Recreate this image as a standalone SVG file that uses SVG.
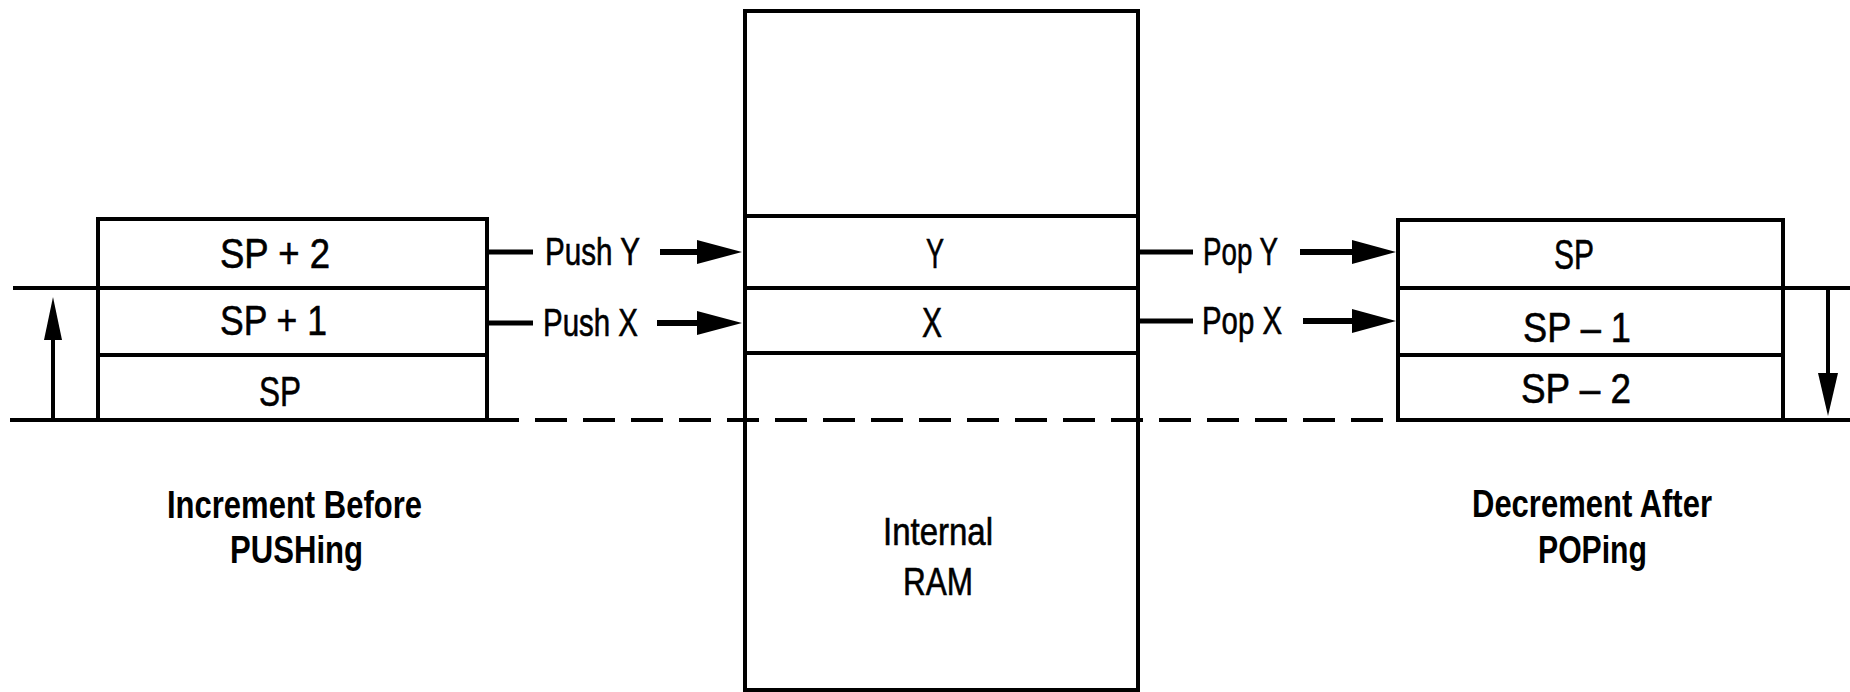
<svg xmlns="http://www.w3.org/2000/svg" width="1850" height="692" viewBox="0 0 1850 692">
<defs>
<style>
.box{fill:#fff;stroke:#000;stroke-width:4}
.ln{stroke:#000;stroke-width:4;fill:none}
.stub{stroke:#000;stroke-width:5;fill:none}
.shaft{stroke:#000;stroke-width:6;fill:none}
.dash{stroke:#000;stroke-width:4;fill:none;stroke-dasharray:32 16}
.cell{font-family:"Liberation Sans",Arial,sans-serif;font-size:42px;fill:#000;stroke:#000;stroke-width:0.6}
.lbl{font-family:"Liberation Sans",Arial,sans-serif;font-size:38px;fill:#000;stroke:#000;stroke-width:0.6}
.cap{font-family:"Liberation Sans",Arial,sans-serif;font-size:38px;font-weight:bold;fill:#000}
.head{fill:#000}
</style>
</defs>
<rect width="1850" height="692" fill="#fff"/>

<g id="left-stack">
<rect class="box" x="98" y="219" width="389" height="201"/>
<line class="ln" x1="98" y1="288" x2="487" y2="288"/>
<line class="ln" x1="98" y1="355" x2="487" y2="355"/>
<text class="cell" x="220" y="268" textLength="110" lengthAdjust="spacingAndGlyphs">SP + 2</text>
<text class="cell" x="220" y="335" textLength="107" lengthAdjust="spacingAndGlyphs">SP + 1</text>
<text class="cell" x="259" y="406" textLength="42" lengthAdjust="spacingAndGlyphs">SP</text>
</g>

<g id="ram">
<rect class="box" x="745" y="11" width="393" height="679"/>
<line class="ln" x1="745" y1="216" x2="1138" y2="216"/>
<line class="ln" x1="745" y1="288" x2="1138" y2="288"/>
<line class="ln" x1="745" y1="353" x2="1138" y2="353"/>
<text class="cell" x="926" y="268" textLength="18" lengthAdjust="spacingAndGlyphs">Y</text>
<text class="cell" x="922" y="337" textLength="20" lengthAdjust="spacingAndGlyphs">X</text>
<text class="lbl" x="883" y="545" textLength="110" lengthAdjust="spacingAndGlyphs">Internal</text>
<text class="lbl" x="903" y="595" textLength="70" lengthAdjust="spacingAndGlyphs">RAM</text>
</g>

<g id="right-stack">
<rect class="box" x="1398" y="220" width="385" height="200"/>
<line class="ln" x1="1398" y1="288" x2="1783" y2="288"/>
<line class="ln" x1="1398" y1="355" x2="1783" y2="355"/>
<text class="cell" x="1554" y="269" textLength="40" lengthAdjust="spacingAndGlyphs">SP</text>
<text class="cell" x="1523" y="342" textLength="108" lengthAdjust="spacingAndGlyphs">SP – 1</text>
<text class="cell" x="1521" y="403" textLength="110" lengthAdjust="spacingAndGlyphs">SP – 2</text>
</g>

<g id="caption-left">
<text class="cap" x="167" y="518" textLength="255" lengthAdjust="spacingAndGlyphs">Increment Before</text>
<text class="cap" x="230" y="563" textLength="133" lengthAdjust="spacingAndGlyphs">PUSHing</text>
</g>

<g id="caption-right">
<text class="cap" x="1472" y="517" textLength="240" lengthAdjust="spacingAndGlyphs">Decrement After</text>
<text class="cap" x="1538" y="563" textLength="109" lengthAdjust="spacingAndGlyphs">POPing</text>
</g>

<g id="connectors">
<line class="ln" x1="13" y1="288" x2="98" y2="288"/>
<line class="ln" x1="10" y1="420" x2="98" y2="420"/>
<line class="ln" x1="1783" y1="288" x2="1850" y2="288"/>
<line class="ln" x1="1783" y1="420" x2="1850" y2="420"/>
<line class="dash" x1="487" y1="420" x2="1398" y2="420"/>
<line class="ln" x1="53" y1="418" x2="53" y2="330"/>
<polygon class="head" points="53,297 44,340 62,340"/>
<line class="ln" x1="1828" y1="290" x2="1828" y2="380"/>
<polygon class="head" points="1828,416 1818,373 1838,373"/>
<g id="push-y">
<line class="stub" x1="487" y1="252" x2="533" y2="252"/>
<text class="lbl" x="545" y="265" textLength="95" lengthAdjust="spacingAndGlyphs">Push Y</text>
<line class="shaft" x1="660" y1="252" x2="705" y2="252"/>
<polygon class="head" points="742,252 697,240 697,264"/>
</g>
<g id="push-x">
<line class="stub" x1="487" y1="323" x2="533" y2="323"/>
<text class="lbl" x="543" y="336" textLength="95" lengthAdjust="spacingAndGlyphs">Push X</text>
<line class="shaft" x1="657" y1="323" x2="705" y2="323"/>
<polygon class="head" points="742,323 697,311 697,335"/>
</g>
<g id="pop-y">
<line class="stub" x1="1138" y1="252" x2="1193" y2="252"/>
<text class="lbl" x="1203" y="265" textLength="75" lengthAdjust="spacingAndGlyphs">Pop Y</text>
<line class="shaft" x1="1300" y1="252" x2="1360" y2="252"/>
<polygon class="head" points="1396,252 1352,240 1352,264"/>
</g>
<g id="pop-x">
<line class="stub" x1="1138" y1="321" x2="1193" y2="321"/>
<text class="lbl" x="1202" y="334" textLength="80" lengthAdjust="spacingAndGlyphs">Pop X</text>
<line class="shaft" x1="1303" y1="321" x2="1360" y2="321"/>
<polygon class="head" points="1396,321 1352,309 1352,333"/>
</g>
</g>
</svg>
